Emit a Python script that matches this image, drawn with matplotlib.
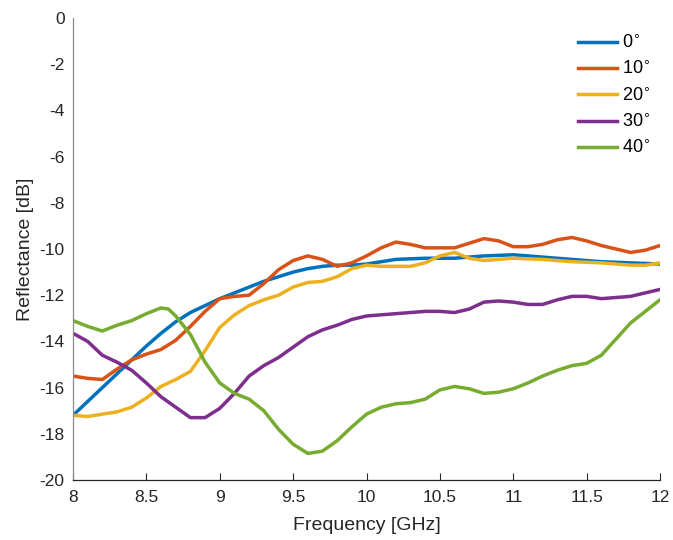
import matplotlib
matplotlib.use("Agg")
import matplotlib.pyplot as plt

plt.rcParams['font.family'] = ['Liberation Sans', 'DejaVu Sans']

f_blue = [8.0, 8.1, 8.2, 8.3, 8.4, 8.5, 8.6, 8.7, 8.8, 8.9, 9.0, 9.1, 9.2, 9.3, 9.4, 9.5, 9.6, 9.7, 9.8, 9.9, 10.0, 10.1, 10.2, 10.4, 10.6, 10.8, 11.0, 11.2, 11.4, 11.6, 11.8, 12.0]
r0 = [-17.2, -16.6, -16.0, -15.4, -14.8, -14.2, -13.65, -13.15, -12.75, -12.45, -12.15, -11.9, -11.65, -11.4, -11.2, -11.0, -10.85, -10.75, -10.7, -10.7, -10.65, -10.55, -10.45, -10.4, -10.4, -10.3, -10.25, -10.35, -10.45, -10.55, -10.6, -10.65]

f_orange = [8.0, 8.1, 8.2, 8.3, 8.4, 8.5, 8.6, 8.7, 8.8, 8.9, 9.0, 9.1, 9.2, 9.3, 9.4, 9.5, 9.6, 9.7, 9.8, 9.9, 10.0, 10.1, 10.2, 10.3, 10.4, 10.5, 10.6, 10.7, 10.8, 10.9, 11.0, 11.1, 11.2, 11.3, 11.4, 11.5, 11.6, 11.7, 11.8, 11.9, 12.0]
r10 = [-15.5, -15.6, -15.65, -15.2, -14.8, -14.55, -14.35, -13.95, -13.35, -12.7, -12.15, -12.05, -12.0, -11.5, -10.9, -10.5, -10.3, -10.45, -10.75, -10.6, -10.3, -9.95, -9.7, -9.8, -9.95, -9.95, -9.95, -9.75, -9.55, -9.65, -9.9, -9.9, -9.8, -9.6, -9.5, -9.65, -9.85, -10.0, -10.15, -10.05, -9.85]

f_yellow = [8.0, 8.1, 8.2, 8.3, 8.4, 8.5, 8.6, 8.7, 8.8, 8.9, 9.0, 9.1, 9.2, 9.3, 9.4, 9.5, 9.6, 9.7, 9.8, 9.9, 10.0, 10.1, 10.2, 10.3, 10.4, 10.5, 10.6, 10.7, 10.8, 10.9, 11.0, 11.2, 11.4, 11.6, 11.8, 11.9, 12.0]
r20 = [-17.2, -17.25, -17.15, -17.05, -16.85, -16.45, -15.95, -15.65, -15.3, -14.4, -13.4, -12.85, -12.45, -12.2, -12.0, -11.65, -11.45, -11.4, -11.2, -10.85, -10.7, -10.75, -10.75, -10.75, -10.6, -10.3, -10.15, -10.4, -10.5, -10.45, -10.4, -10.45, -10.55, -10.6, -10.7, -10.7, -10.6]

f_purple = [8.0, 8.1, 8.2, 8.3, 8.4, 8.5, 8.6, 8.7, 8.8, 8.9, 9.0, 9.1, 9.2, 9.3, 9.4, 9.5, 9.6, 9.7, 9.8, 9.9, 10.0, 10.2, 10.4, 10.5, 10.6, 10.7, 10.8, 10.9, 11.0, 11.1, 11.2, 11.3, 11.4, 11.5, 11.6, 11.7, 11.8, 11.9, 12.0]
r30 = [-13.65, -14.0, -14.6, -14.9, -15.25, -15.8, -16.4, -16.85, -17.3, -17.3, -16.9, -16.25, -15.5, -15.05, -14.7, -14.25, -13.8, -13.5, -13.3, -13.05, -12.9, -12.8, -12.7, -12.7, -12.75, -12.6, -12.3, -12.25, -12.3, -12.4, -12.4, -12.2, -12.05, -12.05, -12.15, -12.1, -12.05, -11.9, -11.75]

f_green = [8.0, 8.1, 8.2, 8.3, 8.4, 8.5, 8.6, 8.65, 8.7, 8.8, 8.9, 9.0, 9.1, 9.2, 9.3, 9.4, 9.5, 9.6, 9.7, 9.8, 9.9, 10.0, 10.1, 10.2, 10.3, 10.4, 10.5, 10.6, 10.7, 10.8, 10.9, 11.0, 11.1, 11.2, 11.3, 11.4, 11.5, 11.6, 11.7, 11.8, 11.9, 12.0]
r40 = [-13.1, -13.35, -13.55, -13.3, -13.1, -12.8, -12.55, -12.6, -12.9, -13.7, -14.9, -15.8, -16.25, -16.5, -17.0, -17.8, -18.45, -18.85, -18.75, -18.3, -17.7, -17.15, -16.85, -16.7, -16.65, -16.5, -16.1, -15.95, -16.05, -16.25, -16.2, -16.05, -15.8, -15.5, -15.25, -15.05, -14.95, -14.6, -13.9, -13.2, -12.7, -12.2]

labels = ['0$^{\\circ}$', '10$^{\\circ}$', '20$^{\\circ}$', '30$^{\\circ}$', '40$^{\\circ}$']
colors = ['#0072BD', '#D95319', '#EDB120', '#7E2F8E', '#77AC30']
xticks = [8, 8.5, 9, 9.5, 10, 10.5, 11, 11.5, 12]
xticklabels = ['8', '8.5', '9', '9.5', '10', '10.5', '11', '11.5', '12']
yticks = [0, -2, -4, -6, -8, -10, -12, -14, -16, -18, -20]

fig = plt.figure(figsize=(6.73, 5.40), dpi=100)
ax = fig.add_axes([73/673, 60/540, (660-73)/673, (480-18)/540])

series = [(f_blue, r0), (f_orange, r10), (f_yellow, r20), (f_purple, r30), (f_green, r40)]
for (fx, ry), c, lab in zip(series, colors, labels):
    ax.plot(fx, ry, color=c, lw=2.5, label=lab, solid_joinstyle='round')

ax.set_xlim(8, 12)
ax.set_ylim(-20, 0)
ax.set_xticks(xticks)
ax.set_xticklabels(xticklabels)
ax.set_yticks(yticks)
ax.set_yticklabels([str(v) for v in yticks])
for s in ['top', 'right']:
    ax.spines[s].set_visible(False)
ax.spines['bottom'].set_color('#262626')
ax.spines['left'].set_color('#8c8c8c')
for s in ['left', 'bottom']:
    ax.spines[s].set_linewidth(0.9)
ax.tick_params(direction='in', length=5, width=0.8, colors='#262626', labelsize=12.5, labelcolor='#262626')
ax.tick_params(axis='y', length=0, pad=6)
ax.tick_params(axis='x', pad=7)
ax.set_xlabel('Frequency [GHz]', fontsize=14, color='#262626', labelpad=9)
ax.set_ylabel('Reflectance [dB]', fontsize=14, color='#262626', labelpad=4)

ax.legend(loc='upper left', frameon=False, fontsize=13, handlelength=2.15,
          handletextpad=0.3, bbox_to_anchor=((578-73)/587, 0.964),
          borderaxespad=0, borderpad=0, labelspacing=0.5)

fig.savefig('out.png', dpi=100)
